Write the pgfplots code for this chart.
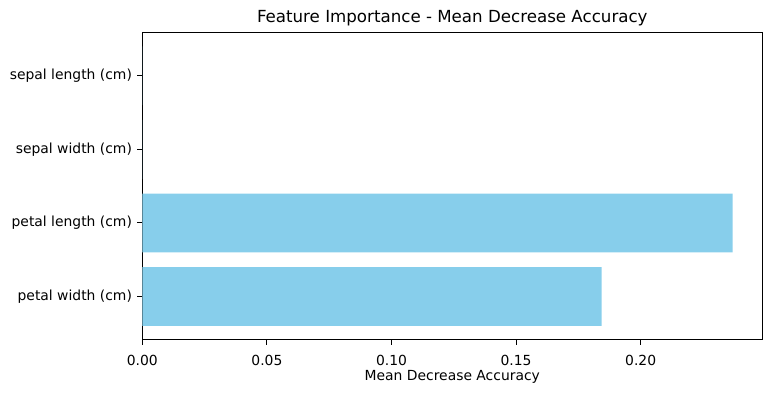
\documentclass[border=0pt]{standalone}
\usepackage{fontspec}
\setmainfont{DejaVu Sans}
\usepackage{pgfplots}
\pgfplotsset{compat=1.18}
\definecolor{skyblue}{RGB}{135,206,235}
\begin{document}
\fontsize{10}{12}\selectfont
\begin{tikzpicture}
\begin{axis}[
  scale only axis,
  width=446.4pt, height=221.5pt,
  xbar, bar width=0.8,
  xmin=0, xmax=0.2488,
  ymin=-0.59, ymax=3.59,
  ytick={0,1,2,3},
  yticklabels={petal width (cm),petal length (cm),sepal width (cm),sepal length (cm)},
  xtick={0,0.05,0.10,0.15,0.20},
  /pgf/number format/assume math mode=true,
  xticklabel style={/pgf/number format/fixed,/pgf/number format/fixed zerofill,/pgf/number format/precision=2,inner sep=0pt, anchor=base, yshift=-15.1pt},
  tick align=outside, tick pos=left,
  major tick length=3.5pt,
  every tick/.style={black, line width=0.8pt},
  axis line style={line width=0.8pt},
  yticklabel style={inner sep=0pt, anchor=mid east, xshift=-3.8pt},
  xlabel={Mean Decrease Accuracy},
  xlabel style={at={(axis description cs:0.5,0)}, anchor=base, yshift=-29.5pt, inner sep=0pt},
  title={Feature Importance - Mean Decrease Accuracy},
  title style={at={(axis description cs:0.5,1)}, anchor=base, yshift=1pt, inner sep=0pt, font=\fontsize{12}{14}\selectfont},
]
\addplot[fill=skyblue, draw=none] coordinates {(0.1843,0) (0.2369,1) (0,2) (0,3)};
\end{axis}
\pgfresetboundingbox
\path[use as bounding box] (-102.5pt,-38.2pt) rectangle (452.7pt,244.8pt);
\end{tikzpicture}
\end{document}
